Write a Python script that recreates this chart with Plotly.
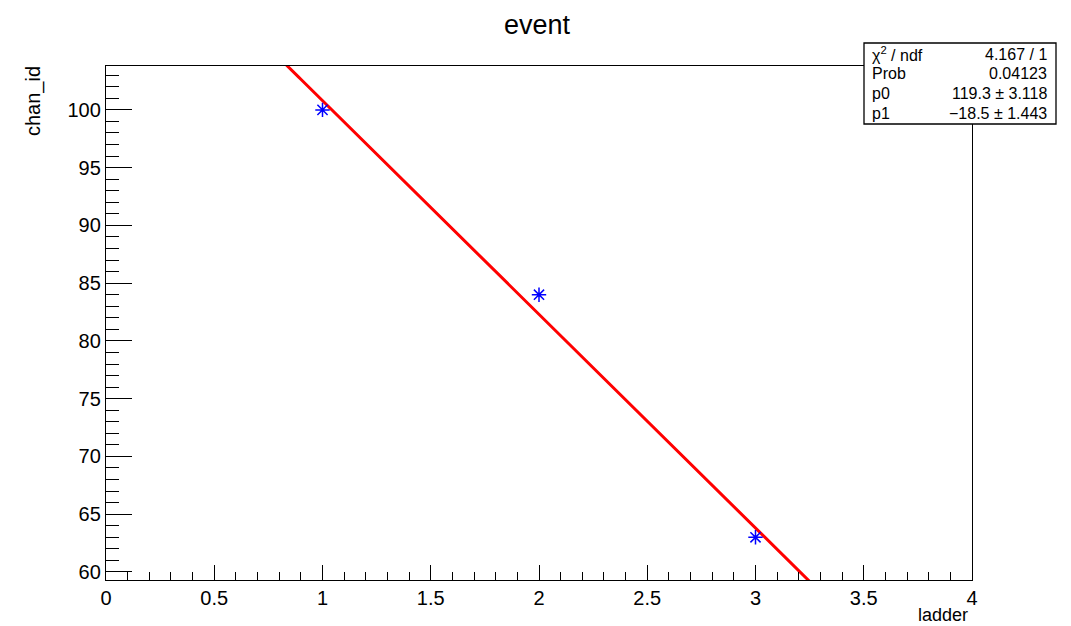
import numpy as np
import plotly.graph_objects as go

# data
ladder = [1, 2, 3]
chan_id = [100, 84, 63]
p0, p1 = 119.3, -18.5
stats_labels = ["χ<sup>2</sup> / ndf", "Prob", "p0", "p1"]
stats_values = ["4.167 / 1", "0.04123", "119.3 ± 3.118", "−18.5 ± 1.443"]

OFF = 8  # page body margin
W, H = 1071 - OFF, 626 - OFF
L, R, T, B = 106 - OFF, 972 - OFF, 66 - OFF, 580 - OFF

def px(x):
    return (x - OFF - L) / (R - L)

def py(y):
    return (B - (y - OFF)) / (B - T)

xf = np.linspace(0, 4, 401)
yf = p0 + p1 * xf

fig = go.Figure()
fig.add_trace(go.Scatter(x=xf, y=yf, mode="lines",
                         line=dict(color="#ff0000", width=3), hoverinfo="skip"))
fig.add_trace(go.Scatter(x=ladder, y=chan_id, mode="markers",
                         marker=dict(symbol="asterisk-open", size=12, color="#0000ff",
                                     line=dict(color="#0000ff", width=1.5)),
                         cliponaxis=False))

font = "Liberation Sans, Arial, sans-serif"
fig.update_layout(
    width=W, height=H,
    margin=dict(l=L, r=W - R, t=T, b=H - B, autoexpand=False),
    paper_bgcolor="white", plot_bgcolor="white",
    showlegend=False,
    font=dict(family=font, color="black", size=17),
    xaxis=dict(range=[0, 4], dtick=0.5, showgrid=False, zeroline=False,
               showline=True, linecolor="black", linewidth=1.3, mirror=True,
               ticks="inside", ticklen=15, tickcolor="black", tickwidth=1.3,
               minor=dict(dtick=0.1, ticks="inside", ticklen=8, tickcolor="black"),
               tickfont=dict(size=20)),
    yaxis=dict(range=[59.3, 103.8], dtick=5, showgrid=False, zeroline=False,
               showline=True, linecolor="black", linewidth=1.3, mirror=True,
               ticks="inside", ticklen=26, tickcolor="black", tickwidth=1.3,
               minor=dict(dtick=1, ticks="inside", ticklen=13, tickcolor="black"),
               tickfont=dict(size=20)),
)

ann = []
ann.append(dict(text="event", x=px(537), y=py(25), xref="paper", yref="paper",
                xanchor="center", yanchor="middle", showarrow=False,
                font=dict(size=27)))
ann.append(dict(text="chan_id", x=px(33), y=py(101), xref="paper", yref="paper",
                textangle=-90, xanchor="center", yanchor="middle", showarrow=False,
                font=dict(size=20)))
ann.append(dict(text="ladder", x=px(970), y=py(615), xref="paper", yref="paper",
                xanchor="right", yanchor="middle", showarrow=False,
                font=dict(size=18)))

rows_y = [54, 74, 93, 113]
for lab, val, ry in zip(stats_labels, stats_values, rows_y):
    ann.append(dict(text=lab, x=px(870), y=py(ry), xref="paper", yref="paper",
                    xanchor="left", yanchor="middle", showarrow=False,
                    font=dict(size=16)))
    ann.append(dict(text=val, x=px(1049), y=py(ry), xref="paper", yref="paper",
                    xanchor="right", yanchor="middle", showarrow=False,
                    font=dict(size=16)))
fig.update_layout(annotations=ann)

fig.add_shape(type="rect", xref="paper", yref="paper",
              x0=px(864), x1=px(1056), y0=py(124), y1=py(43),
              line=dict(color="black", width=1.3), fillcolor="white", layer="above")

fig.write_html("out.html")
